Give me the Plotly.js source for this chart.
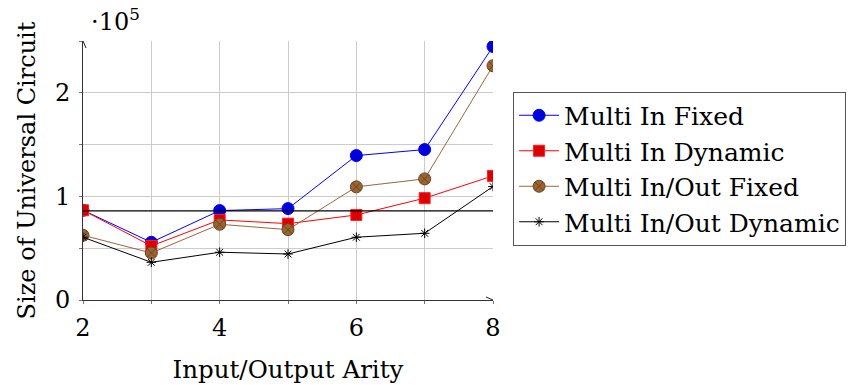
<!DOCTYPE html>
<html>
<head>
<meta charset="utf-8">
<script src="https://cdn.plot.ly/plotly-3.0.1.min.js"></script>
<style>html,body{margin:0;padding:0;background:#fff;}#chart{width:850px;height:385px;}</style>
</head>
<body>
<div id="chart"></div>
<script>
const arity = [2, 3, 4, 5, 6, 7, 8];
const multiInFixed = [86600, 55700, 86300, 88200, 139400, 145200, 244700];
const multiInDynamic = [86600, 52200, 77300, 73700, 82100, 98300, 119800];
const multiInOutFixed = [62500, 45400, 73100, 67900, 109200, 116900, 226100];
const multiInOutDynamic = [60600, 36400, 46100, 44400, 60600, 64400, 109500];
const referenceLevel = [86000];
const yTickVals = [0, 100000, 200000];
const yTickText = ['0', '1', '2'];
const yMinorVals = [50000, 150000, 250000];
const xTickVals = [2, 4, 6, 8];
const xTickText = ['2', '4', '6', '8'];
const xMinorVals = [3, 5, 7];

const FONT = 'DejaVu Serif, serif';

const traces = [
  {x: arity, y: multiInFixed, name: 'Multi In Fixed', mode: 'lines+markers', legendgroup: 'a',
   line: {color: '#0000ff', width: 1},
   marker: {symbol: 'circle', size: 12, color: '#0000dd', line: {color: '#0000ff', width: 1}}},
  {x: arity, y: multiInDynamic, name: 'Multi In Dynamic', mode: 'lines+markers', legendgroup: 'b',
   line: {color: '#ff0000', width: 1},
   marker: {symbol: 'square', size: 11, color: '#dd0000', line: {color: '#ff2020', width: 1}}},
  {x: arity, y: multiInOutFixed, name: 'Multi In/Out Fixed', mode: 'lines+markers', legendgroup: 'c',
   line: {color: '#99663d', width: 1},
   marker: {symbol: 'circle-x', size: 12, color: '#9a6533', line: {color: '#6b4520', width: 1}}},
  {x: arity, y: multiInOutDynamic, name: 'Multi In/Out Dynamic', mode: 'lines+markers', legendgroup: 'd',
   line: {color: '#000000', width: 1},
   marker: {symbol: 'asterisk-open', size: 8, color: '#000000', line: {color: '#000000', width: 1}}},
  {x: [arity[0], arity[arity.length - 1]], y: [referenceLevel[0], referenceLevel[0]],
   mode: 'lines', showlegend: false, hoverinfo: 'skip',
   line: {color: '#000000', width: 1.2}}
];

const gridStyle = {showgrid: true, gridcolor: '#cccccc', gridwidth: 1,
  ticks: 'outside', ticklen: 3, tickcolor: '#777'};

const layout = {
  width: 850, height: 385,
  margin: {l: 83, r: 357, t: 41, b: 85, autoexpand: false},
  paper_bgcolor: '#ffffff', plot_bgcolor: '#ffffff',
  font: {family: FONT, size: 22, color: '#000'},
  showlegend: true,
  legend: {
    x: 1.049, y: 0.805, xanchor: 'left', yanchor: 'top',
    bordercolor: '#555', borderwidth: 1, bgcolor: '#fff',
    font: {family: FONT, size: 25, color: '#000'},
    tracegroupgap: 0, itemwidth: 40
  },
  xaxis: Object.assign({
    range: [2, 8], tickmode: 'array', tickvals: xTickVals, ticktext: xTickText,
    minor: Object.assign({tickmode: 'array', tickvals: xMinorVals}, gridStyle),
    zeroline: false, showline: true, linecolor: '#333', linewidth: 1,
    ticklabelstandoff: 3, automargin: false,
    tickfont: {family: FONT, size: 24},
    title: {text: 'Input/Output Arity', font: {family: FONT, size: 24.5}, standoff: 20}
  }, gridStyle),
  yaxis: Object.assign({
    range: [0, 250000], tickmode: 'array', tickvals: yTickVals, ticktext: yTickText,
    minor: Object.assign({tickmode: 'array', tickvals: yMinorVals}, gridStyle),
    zeroline: false, showline: true, linecolor: '#333', linewidth: 1,
    ticklabelstandoff: 4, automargin: false,
    tickfont: {family: FONT, size: 24},
    title: {text: 'Size of Universal Circuit', font: {family: FONT, size: 24}, standoff: 12}
  }, gridStyle),
  annotations: [
    {xref: 'paper', yref: 'paper', x: 0.015, y: 1.01, xanchor: 'left', yanchor: 'bottom',
     text: '·10<sup>5</sup>', showarrow: false, font: {family: FONT, size: 24}}
  ],
  shapes: [
    {type: 'path', xref: 'x', yref: 'paper', xsizemode: 'pixel', ysizemode: 'pixel',
     xanchor: 2, yanchor: 1, path: 'M -3 -7 L 0 0 L 3 -7',
     line: {color: '#222', width: 1}},
    {type: 'path', xref: 'paper', yref: 'y', xsizemode: 'pixel', ysizemode: 'pixel',
     xanchor: 1, yanchor: 0, path: 'M -7 -3 L 0 0 L -7 3',
     line: {color: '#222', width: 1}}
  ]
};

Plotly.newPlot('chart', traces, layout, {displayModeBar: false, staticPlot: true});
</script>
</body>
</html>
